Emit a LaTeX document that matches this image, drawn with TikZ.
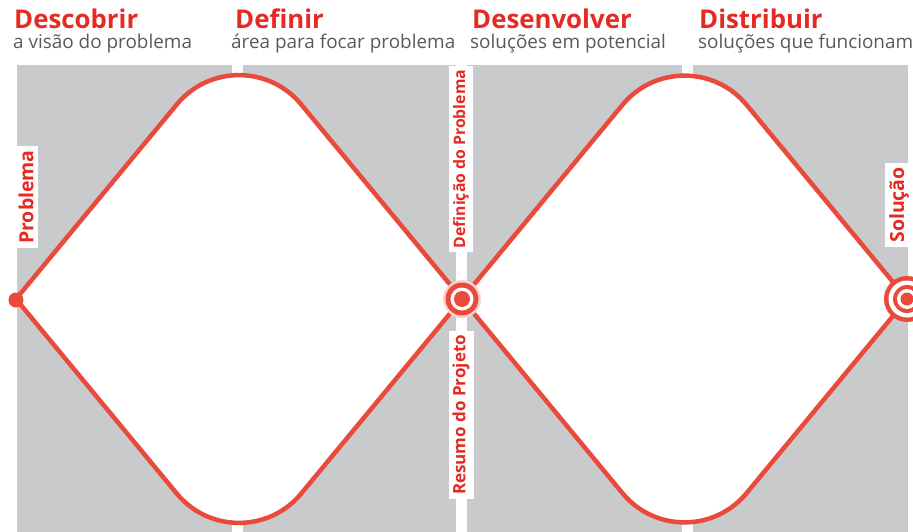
\documentclass[tikz,border=0pt]{standalone}
\usepackage{fontspec}
\setmainfont{Open Sans}
\usetikzlibrary{calc}
\definecolor{panelgrey}{HTML}{C9CACC}
\definecolor{linered}{HTML}{EA4A3C}
\definecolor{titlered}{HTML}{E42A22}
\definecolor{subgrey}{HTML}{58595B}
\begin{document}
\begin{tikzpicture}[x=1pt,y=-1pt,
  panel/.style={fill=panelgrey},
  diamline/.style={draw=linered,line width=4.5pt,fill=white,line join=round},
  phase/.style={anchor=base west,inner sep=0pt,text=titlered,font=\fontsize{25.8}{30}\selectfont\bfseries},
  phasesub/.style={anchor=base west,inner sep=0pt,text=subgrey,font=\fontsize{18.9}{22}\selectfont},
  sidelabel/.style={rotate=90,fill=white,text=titlered,inner xsep=4pt,inner ysep=4pt,font=\fontsize{17}{20}\selectfont\bfseries},
  endlabel/.style={sidelabel,font=\fontsize{19.5}{22}\selectfont\bfseries}]
\useasboundingbox (0,0) rectangle (913,532);
\clip (0,0) rectangle (913,532);
\fill[panel] (16.5,65) rectangle (232,532);
\fill[panel] (243,65) rectangle (456,532);
\fill[panel] (467,65) rectangle (682,532);
\fill[panel] (693,65) rectangle (908,532);
\foreach \xl/\xr in {16/462,462/907}{
  \coordinate (L) at (\xl,299);
  \coordinate (R) at (\xr,299);
  \coordinate (V) at ({(\xl+\xr)/2},{299-1.21*(\xr-\xl)/2});
  \coordinate (W) at ({(\xl+\xr)/2},{299+1.21*(\xr-\xl)/2});
  \draw[diamline] (L) -- ($(V)!0.279!(L)$)
    .. controls ($(V)!0.134!(L)$) and ($(V)!0.134!(R)$) .. ($(V)!0.279!(R)$)
    -- (R) -- ($(W)!0.279!(R)$)
    .. controls ($(W)!0.134!(R)$) and ($(W)!0.134!(L)$) .. ($(W)!0.279!(L)$)
    -- cycle;
}
\node[phase] (descobrir) at (14,29) {Descobrir};
\node[phasesub] (visao) at (13,49) {a visão do problema};
\node[phase] (definir) at (235,29) {Definir};
\node[phasesub] (area) at (231,49) {área para focar problema};
\node[phase] (desenvolver) at (472,29) {Desenvolver};
\node[phasesub] (potencial) at (470,49) {soluções em potencial};
\node[phase] (distribuir) at (699,29) {Distribuir};
\node[phasesub] (funcionam) at (698,49) {soluções que funcionam};
\node[endlabel] (problema) at (26,197) {Problema};
\node[sidelabel,font=\fontsize{15.8}{19}\selectfont\bfseries] (definicao) at (461,159) {Definição do Problema};
\node[sidelabel] (resumo) at (461,415) {Resumo do Projeto};
\node[endlabel] (solucao) at (899,205) {Solução};
\fill[linered] (16,300) circle[radius=7.5];
\fill[linered!25] (462,299) circle[radius=19];
\fill[linered] (462,299) circle[radius=16.5];
\fill[white] (462,299) circle[radius=11.5];
\fill[linered] (462,299) circle[radius=8];
\fill[linered] (907,299) circle[radius=23];
\fill[white] (907,299) circle[radius=18.5];
\fill[linered] (907,299) circle[radius=14];
\fill[white] (907,299) circle[radius=10];
\fill[linered] (907,299) circle[radius=6.5];
\end{tikzpicture}
\end{document}
